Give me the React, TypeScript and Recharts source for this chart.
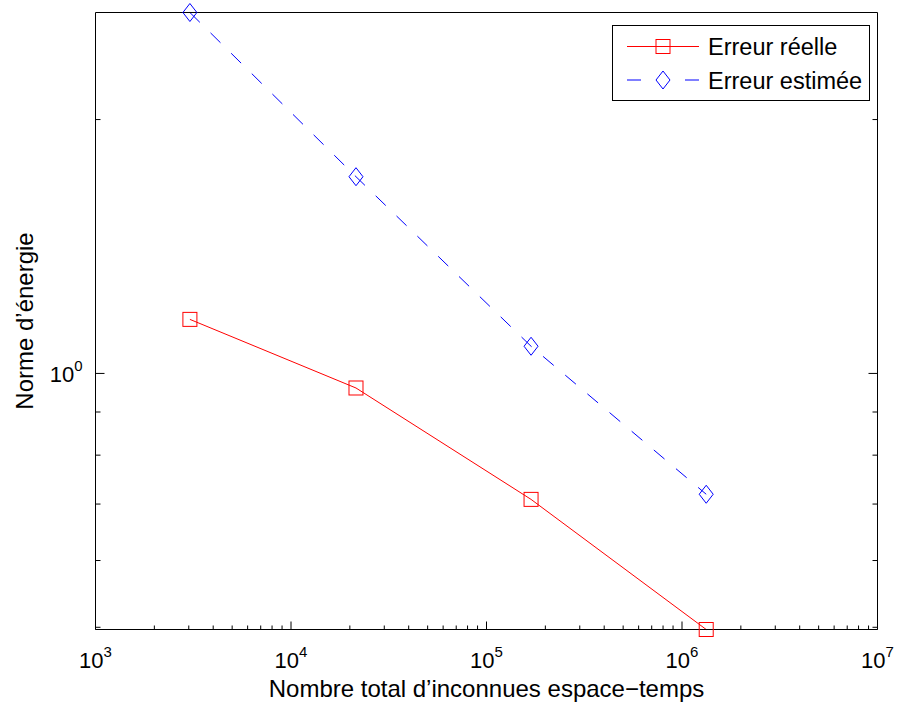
import React from "react";
import { LineChart, Line, XAxis, YAxis, Legend } from "recharts";

// Nombre d'inconnues (espace-temps) et erreurs en norme d'énergie
const unknowns = [3040, 21500, 169000, 1330000];
const realError = [1.159, 0.961, 0.709, 0.497];
const estimatedError = [2.679, 1.711, 1.077, 0.719];

const seriesNames = ["Erreur réelle", "Erreur estimée"];

// graduations (log)
const xMajorTicks = [1e3, 1e4, 1e5, 1e6, 1e7];
const xMinorTicks = [
  2e3, 3e3, 4e3, 5e3, 6e3, 7e3, 8e3, 9e3,
  2e4, 3e4, 4e4, 5e4, 6e4, 7e4, 8e4, 9e4,
  2e5, 3e5, 4e5, 5e5, 6e5, 7e5, 8e5, 9e5,
  2e6, 3e6, 4e6, 5e6, 6e6, 7e6, 8e6, 9e6,
];
const yMajorTicks = [1];
const yMinorTicks = [0.5, 0.6, 0.7, 0.8, 0.9, 2];

const FONT = '"Liberation Sans", Arial, Helvetica, sans-serif';
const RED = "#ff0000";
const BLUE = "#0000ff";

const data = unknowns.map((n, i) => ({
  n,
  real: realError[i],
  estimated: estimatedError[i],
}));

const xTicks = [...xMajorTicks, ...xMinorTicks].sort((a, b) => a - b);
const yTicks = [...yMajorTicks, ...yMinorTicks].sort((a, b) => a - b);
const xDomain = [xMajorTicks[0], xMajorTicks[xMajorTicks.length - 1]];
const yDomain = [
  Math.min(...realError, ...estimatedError),
  Math.max(...realError, ...estimatedError),
];

const exponent = (v: number) => Math.round(Math.log10(v));

const BottomTick = (props: any) => {
  const { x, y, payload } = props;
  const major = xMajorTicks.includes(payload.value);
  return (
    <g>
      <line x1={x} y1={y} x2={x} y2={y - (major ? 8 : 4)} stroke="#000" />
      {major && (
        <text x={x} y={y + 38.5} textAnchor="middle" fontFamily={FONT} fontSize={22} fill="#000">
          10
          <tspan dy={-11} fontSize={15}>
            {exponent(payload.value)}
          </tspan>
        </text>
      )}
    </g>
  );
};

const TopTick = (props: any) => {
  const { x, y, payload } = props;
  const major = xMajorTicks.includes(payload.value);
  return <line x1={x} y1={y} x2={x} y2={y + (major ? 7 : 4)} stroke="#000" />;
};

const LeftTick = (props: any) => {
  const { x, y, payload } = props;
  const major = yMajorTicks.includes(payload.value);
  return (
    <g>
      <line x1={x} y1={y} x2={x + (major ? 9 : 5)} y2={y} stroke="#000" />
      {major && (
        <text x={x - 13} y={y + 9} textAnchor="end" fontFamily={FONT} fontSize={22} fill="#000">
          10
          <tspan dy={-11} fontSize={15}>
            {exponent(payload.value)}
          </tspan>
        </text>
      )}
    </g>
  );
};

const RightTick = (props: any) => {
  const { x, y, payload } = props;
  const major = yMajorTicks.includes(payload.value);
  return <line x1={x} y1={y} x2={x - (major ? 9 : 5)} y2={y} stroke="#000" />;
};

const square = (cx: number, cy: number, color: string, key?: any) => (
  <rect key={key} x={cx - 7} y={cy - 7} width={14} height={14} fill="none" stroke={color} />
);

const diamond = (cx: number, cy: number, color: string, key?: any) => (
  <polygon
    key={key}
    points={`${cx},${cy - 9} ${cx + 7},${cy} ${cx},${cy + 9} ${cx - 7},${cy}`}
    fill="none"
    stroke={color}
  />
);

const LegendBox = (props: any) => {
  const payload = [...(props.payload || [])].sort(
    (a: any, b: any) => seriesNames.indexOf(a.value) - seriesNames.indexOf(b.value)
  );
  return (
    <svg width={258} height={76} style={{ display: "block" }}>
      <rect x={0.5} y={0.5} width={257} height={75} fill="#fff" stroke="#000" />
      {payload.map((entry: any, i: number) => {
        const cy = 21.5 + i * 33.5;
        const dashed = entry.dataKey === "estimated";
        return (
          <g key={entry.value}>
            <line
              x1={15}
              x2={87}
              y1={cy}
              y2={cy}
              stroke={entry.color}
              strokeDasharray={dashed ? "14 44" : undefined}
            />
            {dashed ? diamond(51, cy, entry.color) : square(51, cy, entry.color)}
            <text x={96} y={cy + 8.5} fontFamily={FONT} fontSize={23.5} fill="#000">
              {entry.value}
            </text>
          </g>
        );
      })}
    </svg>
  );
};

export default function App() {
  return (
    <div style={{ position: "absolute", left: 0, top: 0, width: 899, height: 706, background: "#fff" }}>
      <LineChart
        width={899}
        height={706}
        data={data}
        margin={{ top: 11.5, right: 20.5, bottom: 0, left: 0 }}
        style={{ fontFamily: FONT }}
      >
        <XAxis
          xAxisId="b"
          dataKey="n"
          type="number"
          scale="log"
          domain={xDomain}
          ticks={xTicks}
          interval={0}
          height={76.5}
          tickSize={0}
          tickMargin={0}
          tickLine={false}
          tick={BottomTick}
          axisLine={{ stroke: "#000" }}
          label={{
            value: "Nombre total d’inconnues espace−temps",
            position: "insideBottom",
            offset: 9,
            fontSize: 24,
            fontFamily: FONT,
            fill: "#000",
          }}
        />
        <XAxis
          xAxisId="t"
          orientation="top"
          type="number"
          scale="log"
          domain={xDomain}
          allowDataOverflow
          ticks={xTicks}
          interval={0}
          height={1}
          tickSize={0}
          tickMargin={0}
          tickLine={false}
          tick={TopTick}
          axisLine={{ stroke: "#000" }}
        />
        <YAxis
          yAxisId="l"
          type="number"
          scale="log"
          domain={yDomain}
          ticks={yTicks}
          interval={0}
          width={95.5}
          tickSize={0}
          tickMargin={0}
          tickLine={false}
          tick={LeftTick}
          axisLine={{ stroke: "#000" }}
          label={{
            value: "Norme d’énergie",
            angle: -90,
            position: "insideLeft",
            offset: 24.5,
            fontSize: 24,
            fontFamily: FONT,
            fill: "#000",
            style: { textAnchor: "middle" },
          }}
        />
        <YAxis
          yAxisId="r"
          orientation="right"
          type="number"
          scale="log"
          domain={yDomain}
          allowDataOverflow
          ticks={yTicks}
          interval={0}
          width={1}
          tickSize={0}
          tickMargin={0}
          tickLine={false}
          tick={RightTick}
          axisLine={{ stroke: "#000" }}
        />
        <Legend
          layout="vertical"
          align="center"
          verticalAlign="middle"
          content={LegendBox}
          wrapperStyle={{ position: "absolute", left: 612, top: 25, width: 258, height: 76 }}
        />
        <Line
          xAxisId="b"
          yAxisId="l"
          type="linear"
          dataKey="real"
          name={seriesNames[0]}
          stroke={RED}
          strokeWidth={1}
          dot={(p: any) => square(p.cx, p.cy, RED, p.index)}
          activeDot={false}
          isAnimationActive={false}
        />
        <Line
          xAxisId="b"
          yAxisId="l"
          type="linear"
          dataKey="estimated"
          name={seriesNames[1]}
          stroke={BLUE}
          strokeWidth={1}
          strokeDasharray="14 15"
          dot={(p: any) => diamond(p.cx, p.cy, BLUE, p.index)}
          activeDot={false}
          isAnimationActive={false}
        />
      </LineChart>
    </div>
  );
}
